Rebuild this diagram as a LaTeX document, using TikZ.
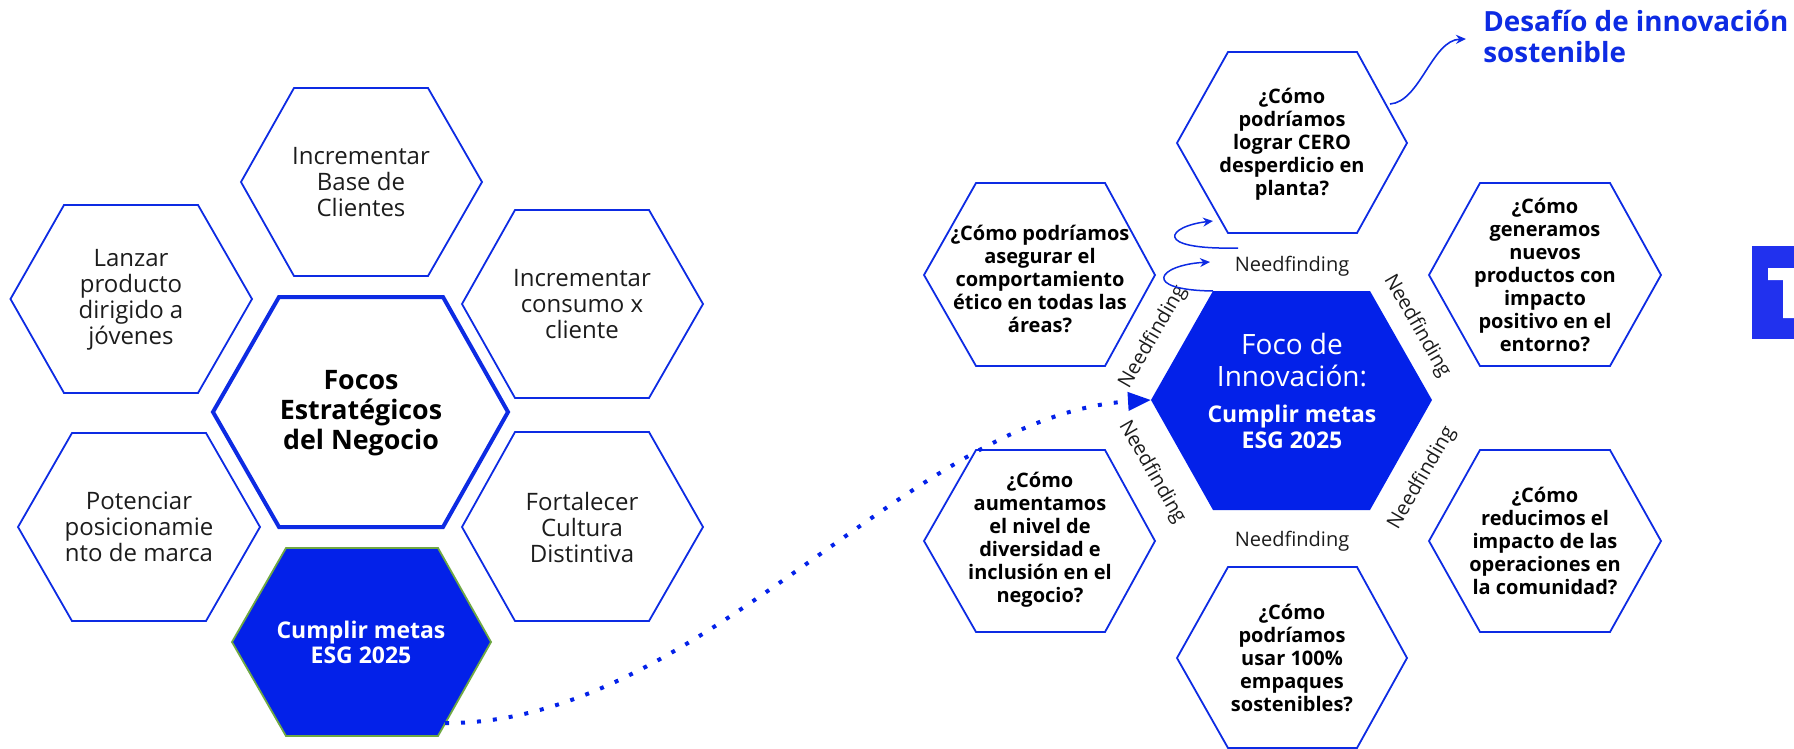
\documentclass[tikz,border=0pt]{standalone}
\usepackage{fontspec}
\setmainfont{Open Sans}
\usepackage{tikz}
\usetikzlibrary{arrows.meta, positioning}
\definecolor{hexblue}{HTML}{0D2BE3}
\definecolor{fillblue}{HTML}{0321E9}
\definecolor{logoblue}{HTML}{2131EE}
\definecolor{rimgreen}{HTML}{6FA843}
\definecolor{txtgray}{HTML}{1C1C1C}

\begin{document}
\begin{tikzpicture}[x=0.5pt, y=-0.5pt,
  hexline/.style={draw=hexblue, line width=0.9pt, line join=miter},
  smalltext/.style={align=center, text=txtgray, font=\fontsize{12}{13}\selectfont},
  question/.style={align=center, text=black, font=\fontsize{10}{11.5}\selectfont\bfseries},
  needs/.style={inner sep=0pt, text=txtgray, font=\fontsize{10}{12}\selectfont}]

\useasboundingbox (0,0) rectangle (1794,749);

\draw [hexline] (10.5,299) -- (64,205) -- (198,205) -- (252,299) -- (198,393) -- (64,393) -- cycle;
\draw [hexline] (241,182) -- (294,88) -- (428,88) -- (482,182) -- (428,276) -- (294,276) -- cycle;
\draw [hexline] (462,304) -- (515,210) -- (649,210) -- (703,304) -- (649,398) -- (515,398) -- cycle;
\draw [hexline] (18,527) -- (72,433) -- (206,433) -- (260,527) -- (206,621) -- (72,621) -- cycle;
\draw [hexline] (462,527) -- (515,432) -- (649,432) -- (703,527) -- (649,621) -- (515,621) -- cycle;
\draw [hexline, line width=2pt] (213,412) -- (279,297) -- (443,297) -- (508,412) -- (443,527) -- (279,527) -- cycle;
\draw [fill=fillblue, draw=rimgreen, line width=0.9pt] (232,642) -- (286,548) -- (438,548) -- (491,642) -- (438,736) -- (286,736) -- cycle;

\draw [hexline] (1177,143) -- (1228,52) -- (1357,52) -- (1407,143) -- (1357,233) -- (1228,233) -- cycle;
\draw [hexline] (924,275) -- (976,183) -- (1105,183) -- (1155,275) -- (1105,366) -- (976,366) -- cycle;
\draw [hexline] (1429,275) -- (1480,183) -- (1610,183) -- (1661,275) -- (1610,366) -- (1480,366) -- cycle;
\draw [hexline] (924,541) -- (976,450) -- (1105,450) -- (1155,541) -- (1105,632) -- (976,632) -- cycle;
\draw [hexline] (1429,541) -- (1480,450) -- (1610,450) -- (1661,541) -- (1610,632) -- (1480,632) -- cycle;
\draw [hexline] (1177,658) -- (1228,567) -- (1357,567) -- (1407,658) -- (1357,748) -- (1228,748) -- cycle;
\path [fill=fillblue] (1151,400) -- (1213,291) -- (1370,291) -- (1432,400) -- (1370,510) -- (1213,510) -- cycle;

\fill [logoblue] (1752,246) rectangle (1794,339);
\fill [white] (1768,268) -- (1794,268) -- (1794,318) -- (1783,318) -- (1783,280) -- (1768,280) -- cycle;

\node [smalltext] (basecli) at (361,182) {Incrementar\\Base de\\Clientes};
\node [smalltext] (lanzar) at (131,300) {Lanzar\\producto\\dirigido a\\jóvenes};
\node [smalltext] (consumo) at (582,304) {Incrementar\\consumo x\\cliente};
\node [smalltext] (potenciar) at (139,527) {Potenciar\\posicionamie\\nto de marca};
\node [smalltext] (fortalecer) at (582,527) {Fortalecer\\Cultura\\Distintiva};
\node [align=center, text=black, font=\fontsize{13.4}{15}\selectfont\bfseries] (focos) at (361,413) {Focos\\Estratégicos\\del Negocio};
\node [align=center, text=white, font=\fontsize{11.5}{12.5}\selectfont\bfseries] (cumplir) at (361,642) {Cumplir metas\\ESG 2025};

\node [question] (cero) at (1292,144) {¿Cómo\\podríamos\\lograr CERO\\desperdicio en\\planta?};
\node [question] (etico) at (1040,279) {¿Cómo podríamos\\asegurar el\\comportamiento\\ético en todas las\\áreas?};
\node [question] (nuevos) at (1545,275) {¿Cómo\\generamos\\nuevos\\productos con\\impacto\\positivo en el\\entorno?};
\node [question] (diversidad) at (1040,540) {¿Cómo\\aumentamos\\el nivel de\\diversidad e\\inclusión en el\\negocio?};
\node [question] (comunidad) at (1545,541) {¿Cómo\\reducimos el\\impacto de las\\operaciones en\\la comunidad?};
\node [question] (empaques) at (1292,658) {¿Cómo\\podríamos\\usar 100\%\\empaques\\sostenibles?};

\node [align=center, text=white, font=\fontsize{14}{16}\selectfont] (foco) at (1292,360) {Foco de\\Innovación:};
\node [align=center, text=white, font=\fontsize{11.5}{13}\selectfont\bfseries] (focoesg) at (1292,427) {Cumplir metas\\ESG 2025};

\node [needs] (nftop) at (1292,266) {Needfinding};
\node [needs] (nfbot) at (1292,541) {Needfinding};
\node [needs, rotate=60] (nful) at (1153,337) {Needfinding};
\node [needs, rotate=-60] (nfur) at (1417,326) {Needfinding};
\node [needs, rotate=-60] (nfll) at (1152,472) {Needfinding};
\node [needs, rotate=60] (nflr) at (1422,478) {Needfinding};

\node [anchor=north west, inner sep=0pt, align=left, text=hexblue, font=\fontsize{13.9}{15.5}\selectfont\bfseries] (reto) at (1483,10) {Desafío de innovación\\sostenible};

\coordinate (cumplir-out) at (445,723);
\coordinate (foco-w) at (1151,400);
\coordinate (foco-nw) at (1213,291);
\coordinate (cero-sw) at (1213,221);
\coordinate (cero-e) at (1390,104);
\coordinate (nftop-a) at (1238,248);
\coordinate (nftop-b) at (1210,262);
\coordinate (reto-w) at (1466,39);

\draw [fillblue, line width=2pt, dash pattern=on 2pt off 6pt, -{Triangle[length=11.5pt, width=9pt]}] (cumplir-out) .. controls (700,725) and (910,415) .. (foco-w);
\draw [hexblue, line width=0.75pt, -{Stealth[length=5pt, width=4.5pt]}] (nftop-a) .. controls (1150,250) and (1168,226) .. (cero-sw);
\draw [hexblue, line width=0.75pt, -{Stealth[length=5pt, width=4.5pt]}] (foco-nw) .. controls (1140,290) and (1158,265) .. (nftop-b);
\draw [hexblue, line width=0.8pt, -{Stealth[length=5pt, width=4.5pt]}] (cero-e) .. controls (1420,102) and (1432,40) .. (reto-w);
\end{tikzpicture}
\end{document}
